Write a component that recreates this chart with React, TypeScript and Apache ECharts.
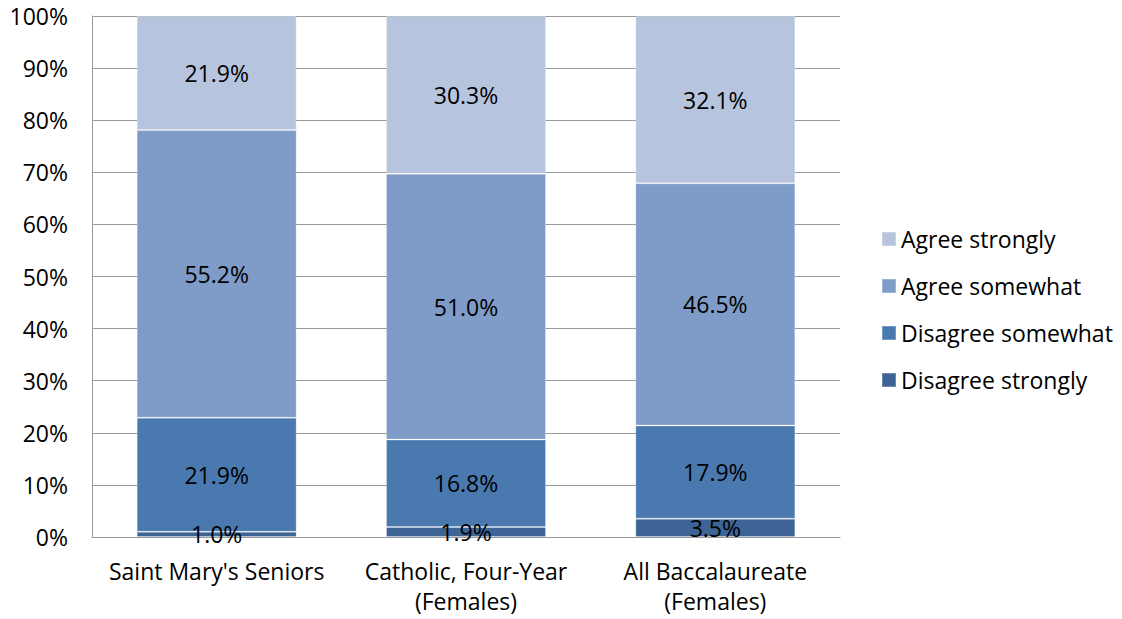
import React, { useEffect, useRef } from "react";
import * as echarts from "echarts";

const categories = ["Saint Mary's Seniors", "Catholic, Four-Year\n(Females)", "All Baccalaureate\n(Females)"];
const disagreeStrongly = [1.0, 1.9, 3.5];
const disagreeSomewhat = [21.9, 16.8, 17.9];
const agreeSomewhat = [55.2, 51.0, 46.5];
const agreeStrongly = [21.9, 30.3, 32.1];
const seriesNames = ["Disagree strongly", "Disagree somewhat", "Agree somewhat", "Agree strongly"];
const colors = ["#3D6494", "#4A79B0", "#7F9CC8", "#B7C4DE"];
const yTicks = [0, 10, 20, 30, 40, 50, 60, 70, 80, 90, 100];

const FONT = "'Open Sans', 'Noto Sans', sans-serif";
const FS = 23;

export default function App() {
  const ref = useRef<HTMLDivElement>(null);
  useEffect(() => {
    if (!ref.current) return;
    const chart = echarts.init(ref.current, undefined, { renderer: "svg" });
    const values = [disagreeStrongly, disagreeSomewhat, agreeSomewhat, agreeStrongly];
    chart.setOption({
      animation: false,
      textStyle: { fontFamily: FONT },
      grid: { left: 92, right: 282, top: 16, bottom: 82, containLabel: false, outerBoundsMode: "none" },
      legend: {
        orient: "vertical",
        left: 876,
        top: 222,
        itemWidth: 14,
        itemHeight: 14,
        itemGap: 23,
        icon: "rect",
        data: [...seriesNames].reverse(),
        textStyle: { fontSize: FS, color: "#000", fontFamily: FONT, lineHeight: 24 },
      },
      xAxis: {
        type: "category",
        data: categories,
        axisLine: { show: true, lineStyle: { color: "#999", width: 1 } },
        axisTick: { show: false },
        axisLabel: { interval: 0, fontSize: FS, color: "#000", lineHeight: 30, margin: 19, fontFamily: FONT },
      },
      yAxis: {
        type: "value",
        min: 0,
        max: 100,
        interval: 10,
        axisLine: { show: true, lineStyle: { color: "#999", width: 1 } },
        axisTick: { show: false },
        splitLine: { show: true, lineStyle: { color: "#999", width: 1 } },
        axisLabel: {
          fontSize: FS,
          color: "#000",
          margin: 24,
          fontFamily: FONT,
          formatter: (v: number) => (yTicks.includes(v) ? v + "%" : ""),
        },
      },
      series: seriesNames.map((name, i) => ({
        name,
        type: "bar",
        stack: "total",
        barWidth: 160,
        data: values[i],
        itemStyle: { color: colors[i], borderColor: "rgba(255,255,255,0.25)", borderWidth: 1 },
        label: {
          show: true,
          position: "inside",
          fontSize: FS,
          color: "#000",
          fontFamily: FONT,
          formatter: (p: any) => p.value.toFixed(1) + "%",
        },
      })),
    });
    return () => chart.dispose();
  }, []);
  return <div ref={ref} style={{ position: "absolute", left: 0, top: 0, width: 1122, height: 619 }} />;
}
